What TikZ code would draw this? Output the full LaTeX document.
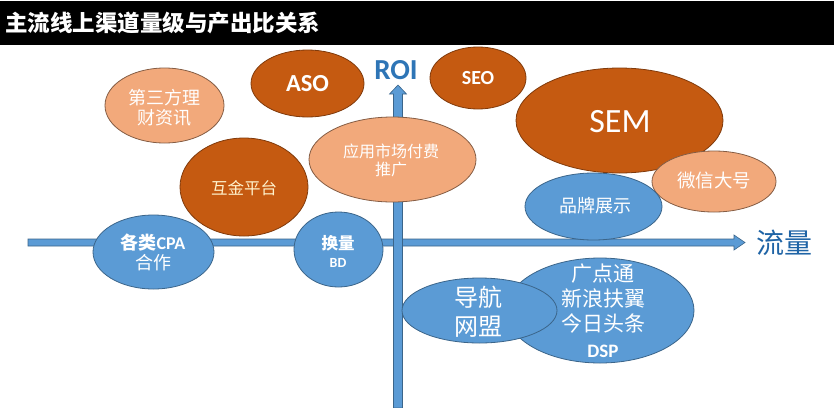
\documentclass[tikz,border=0pt]{standalone}
\usepackage{fontspec}
\setmainfont{Carlito}
\newfontfamily\cjk{Noto Sans CJK SC}
\usetikzlibrary{shapes.geometric}
\definecolor{dorange}{HTML}{C55A11}
\definecolor{lorange}{HTML}{F2A97B}
\definecolor{mblue}{HTML}{5B9BD5}
\definecolor{roiblue}{HTML}{2E75B6}
\definecolor{flowblue}{HTML}{1F64A6}
\definecolor{cream}{HTML}{FFF2CC}
\tikzset{
  ell/.style={ellipse, inner sep=0pt, outer sep=0pt, line width=0.8pt},
  darkell/.style={ell, fill=dorange, draw=dorange!65!black},
  lightell/.style={ell, fill=lorange, draw=lorange!55!black},
  blueell/.style={ell, fill=mblue, draw=mblue!65!black},
  lbl/.style={inner sep=0pt, text=white, align=center},
  axisbar/.style={fill=mblue, draw=mblue!65!black, line width=0.6pt},
}
\newcommand{\fs}[2]{\fontsize{#1}{#2}\selectfont}
\begin{document}
\begin{tikzpicture}[x=1pt,y=-1pt]
\useasboundingbox (0,0) rectangle (834,407);
\fill[white] (0,0) rectangle (834,407);
\fill[black] (0,1) rectangle (834,45);
\node[anchor=west, lbl, font=\cjk\bfseries\fs{22.5}{24}] (title) at (5,23) {主流线上渠道量级与产出比关系};

% axes
\coordinate (xstart) at (28,242.5);
\coordinate (xend) at (745,242.5);
\coordinate (ybottom) at (398,407);
\coordinate (ytop) at (398,85);
\draw[axisbar] (28,239) -- (734,239) -- (734,235) -- (xend) -- (734,250) -- (734,246) -- (28,246) -- cycle;
\draw[axisbar] (393.5,408) -- (393.5,94) -- (389.5,94) -- (ytop) -- (406.5,94) -- (402.5,94) -- (402.5,408) -- cycle;
\node[inner sep=0pt, text=roiblue, font=\bfseries\fs{29}{30}] (roi) at (396,70) {ROI};
\node[inner sep=0pt, text=flowblue, font=\cjk\fs{28}{30}] (flow) at (784,243) {流量};

% ellipses
\node[lightell, minimum width=119pt, minimum height=75pt] (third) at (164.5,105.5) {};
\node[lbl, font=\cjk\fs{18}{20}] (third-t) at (164,108) {第三方理\\财资讯};

\node[darkell, minimum width=113pt, minimum height=67pt] (aso) at (307.5,83.5) {};
\node[lbl, font=\bfseries\fs{24.5}{26}] (aso-t) at (aso) {ASO};

\node[darkell, minimum width=96pt, minimum height=62pt] (seo) at (478,78) {};
\node[lbl, font=\bfseries\fs{20}{22}] (seo-t) at (seo) {SEO};

\node[darkell, minimum width=207pt, minimum height=105pt] (sem) at (619.5,120.5) {};
\node[lbl, font=\fs{34}{36}] (sem-t) at (620,122) {SEM};

\node[lightell, minimum width=124pt, minimum height=61pt] (wx) at (714,181.5) {};
\node[lbl, font=\cjk\fs{18.5}{20}] (wx-t) at (714,180) {微信大号};

\node[blueell, minimum width=137pt, minimum height=67pt] (pp) at (593.5,206.5) {};
\node[lbl, font=\cjk\fs{18}{20}] (pp-t) at (595,206) {品牌展示};

\node[lightell, minimum width=167pt, minimum height=85pt] (app) at (392.5,159.5) {};
\node[lbl, font=\cjk\fs{16}{18}] (app-t) at (391,160) {应用市场付费\\推广};

\node[darkell, minimum width=128pt, minimum height=98pt] (hj) at (244,187) {};
\node[lbl, text=cream, font=\cjk\fs{16.5}{18}] (hj-t) at (244,188) {互金平台};

\node[blueell, minimum width=121pt, minimum height=74pt] (cpa) at (153.5,252) {};
\node[lbl, font=\fs{18}{20}] (cpa-t) at (153,252) {{\cjk\bfseries 各类}\textbf{CPA}\\{\cjk 合作}};

\node[blueell, minimum width=89pt, minimum height=75pt] (hl) at (338.5,249.5) {};
\node[lbl, font=\fs{16.5}{18}] (hl-t) at (338,251) {{\cjk\bfseries 换量}\\{\bfseries\fs{14}{16}BD}};

\node[blueell, minimum width=188pt, minimum height=105pt] (gdt) at (600,310.5) {};
\node[lbl, font=\cjk\fs{21}{25.3}] (gdt-t) at (603,310.5) {广点通\\新浪扶翼\\今日头条\\{\rmfamily\bfseries\fs{19}{20}DSP}};

\node[blueell, minimum width=155pt, minimum height=65pt] (dh) at (479.5,310.5) {};
\node[lbl, font=\cjk\fs{24}{29}] (dh-t) at (478,311.5) {导航\\网盟};
\end{tikzpicture}
\end{document}
